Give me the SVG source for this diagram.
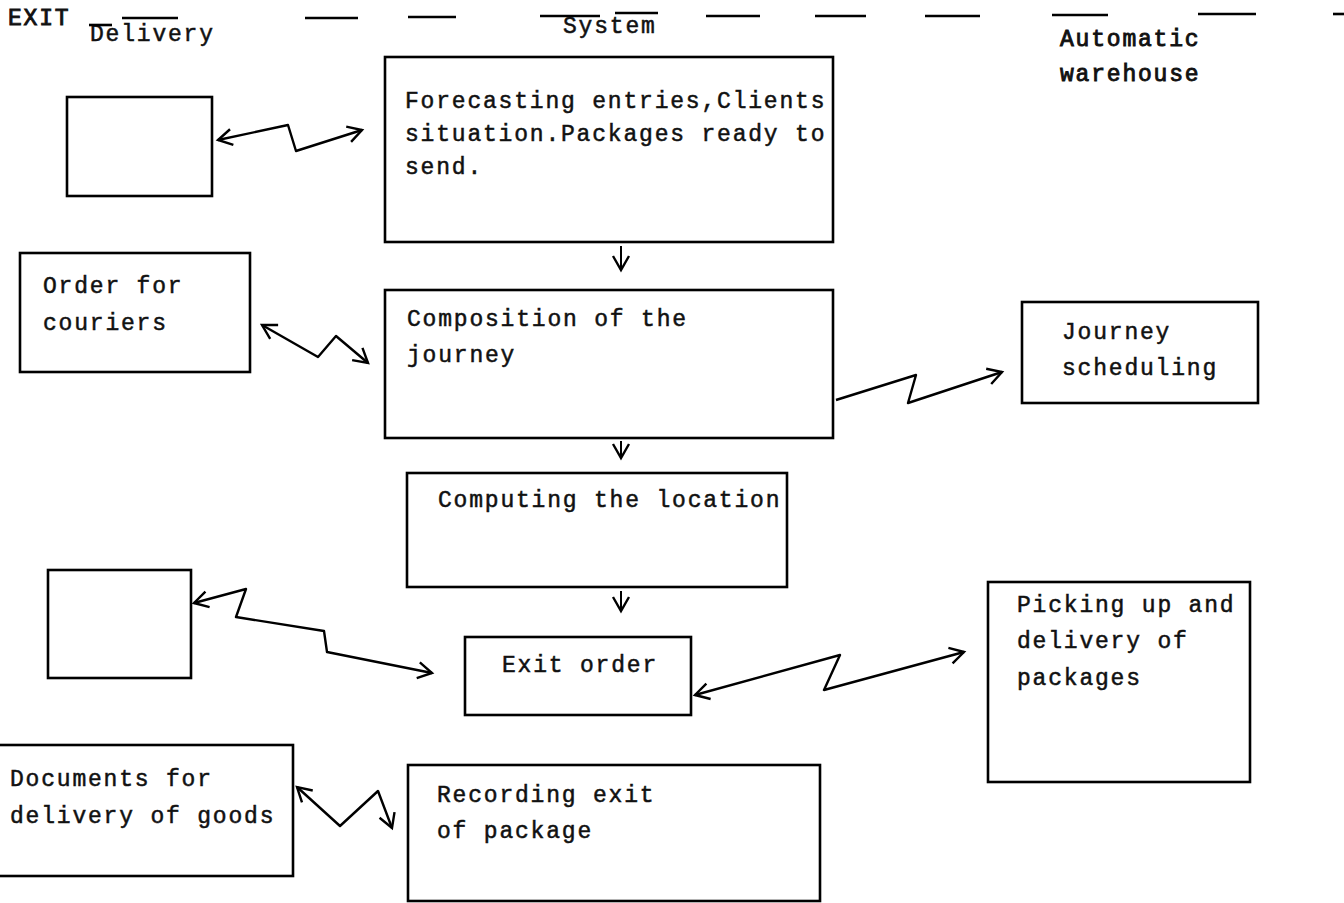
<svg xmlns="http://www.w3.org/2000/svg" width="1344" height="903" viewBox="0 0 1344 903">
  <defs>
    <style>
      .box { fill: #fff; stroke: #000; stroke-width: 2.6; }
      .t { font-family: "Liberation Mono", "DejaVu Sans Mono", monospace; font-size: 23px; letter-spacing: 1.8px; fill: #111; stroke: #111; stroke-width: 0.5; }
      .hd { font-family: "Liberation Mono", "DejaVu Sans Mono", monospace; font-size: 23px; letter-spacing: 1.8px; fill: #111; stroke: #111; stroke-width: 0.9; }
      .rule { stroke: #000; stroke-width: 2.6; fill: none; }
      .zz { stroke: #000; stroke-width: 2.4; fill: none; stroke-linejoin: round; }
      .flow { stroke: #000; stroke-width: 2; fill: none; }
    </style>
    <marker id="vee" viewBox="0 0 20 20" refX="16" refY="10" markerWidth="20" markerHeight="20" markerUnits="userSpaceOnUse" orient="auto-start-reverse">
      <path d="M2,2 L16,10 L2,18" fill="none" stroke="#000" stroke-width="2.4"/>
    </marker>
  </defs>
  <rect width="1344" height="903" fill="#fff"/>

  <!-- header: lane titles and typed rule -->
  <g id="header">
    <text class="hd" x="8" y="25" font-size="19" letter-spacing="0">EXIT</text>
    <text class="t" x="90" y="41">Delivery</text>
    <text class="t" x="563" y="33">System</text>
    <text class="hd" x="1060" y="46">Automatic</text>
    <text class="hd" x="1060" y="81">warehouse</text>
    <g class="rule">
      <line x1="89" y1="25" x2="112" y2="25"/>
      <line x1="122" y1="18" x2="178" y2="18"/>
      <line x1="305" y1="18" x2="358" y2="18"/>
      <line x1="408" y1="17" x2="456" y2="17"/>
      <line x1="540" y1="16" x2="600" y2="16"/>
      <line x1="615" y1="13" x2="658" y2="13"/>
      <line x1="706" y1="16" x2="760" y2="16"/>
      <line x1="815" y1="16" x2="866" y2="16"/>
      <line x1="925" y1="16" x2="980" y2="16"/>
      <line x1="1052" y1="15" x2="1108" y2="15"/>
      <line x1="1198" y1="14" x2="1256" y2="14"/>
      <line x1="1333" y1="14" x2="1344" y2="14"/>
    </g>
  </g>

  <!-- delivery lane -->
  <g id="delivery-blank-1">
    <rect class="box" x="67" y="97" width="145" height="99"/>
  </g>
  <g id="order-couriers">
    <rect class="box" x="20" y="253" width="230" height="119"/>
    <text class="t" x="43" y="293">Order for</text>
    <text class="t" x="43" y="330">couriers</text>
  </g>
  <g id="delivery-blank-2">
    <rect class="box" x="48" y="570" width="143" height="108"/>
  </g>
  <g id="delivery-documents">
    <rect class="box" x="-2" y="745" width="295" height="131"/>
    <text class="t" x="10" y="786">Documents for</text>
    <text class="t" x="10" y="823">delivery of goods</text>
  </g>

  <!-- system lane -->
  <g id="forecasting">
    <rect class="box" x="385" y="57" width="448" height="185"/>
    <text class="t" x="405" y="108">Forecasting entries,Clients</text>
    <text class="t" x="405" y="141">situation.Packages ready to</text>
    <text class="t" x="405" y="174">send.</text>
  </g>
  <g id="composition">
    <rect class="box" x="385" y="290" width="448" height="148"/>
    <text class="t" x="407" y="326">Composition of the</text>
    <text class="t" x="407" y="362">journey</text>
  </g>
  <g id="computing-location">
    <rect class="box" x="407" y="473" width="380" height="114"/>
    <text class="t" x="438" y="507">Computing the location</text>
  </g>
  <g id="exit-order">
    <rect class="box" x="465" y="637" width="226" height="78"/>
    <text class="t" x="502" y="672">Exit order</text>
  </g>
  <g id="recording-exit">
    <rect class="box" x="408" y="765" width="412" height="136"/>
    <text class="t" x="437" y="802">Recording exit</text>
    <text class="t" x="437" y="838">of package</text>
  </g>

  <!-- automatic warehouse lane -->
  <g id="journey-scheduling">
    <rect class="box" x="1022" y="302" width="236" height="101"/>
    <text class="t" x="1062" y="339">Journey</text>
    <text class="t" x="1062" y="375">scheduling</text>
  </g>
  <g id="picking-up">
    <rect class="box" x="988" y="582" width="262" height="200"/>
    <text class="t" x="1017" y="612">Picking up and</text>
    <text class="t" x="1017" y="648">delivery of</text>
    <text class="t" x="1017" y="685">packages</text>
  </g>

  <!-- connectors: vertical flow and zigzag data links -->
  <g id="connectors">
    <line class="flow" x1="621" y1="246" x2="621" y2="270" marker-end="url(#vee)"/>
    <line class="flow" x1="621" y1="441" x2="621" y2="458" marker-end="url(#vee)"/>
    <line class="flow" x1="621" y1="591" x2="621" y2="611" marker-end="url(#vee)"/>

    <polyline class="zz" points="218,140 288,125 296,151 362,130" marker-start="url(#vee)" marker-end="url(#vee)"/>
    <polyline class="zz" points="262,325 318,357 336,336 368,363" marker-start="url(#vee)" marker-end="url(#vee)"/>
    <polyline class="zz" points="836,400 916,375 908,403 1002,372" marker-end="url(#vee)"/>
    <polyline class="zz" points="194,603 246,589 236,617 324,631 327,652 432,673" marker-start="url(#vee)" marker-end="url(#vee)"/>
    <polyline class="zz" points="695,695 840,655 824,690 964,652" marker-start="url(#vee)" marker-end="url(#vee)"/>
    <polyline class="zz" points="297,787 340,826 378,791 392,828" marker-start="url(#vee)" marker-end="url(#vee)"/>
  </g>
</svg>
